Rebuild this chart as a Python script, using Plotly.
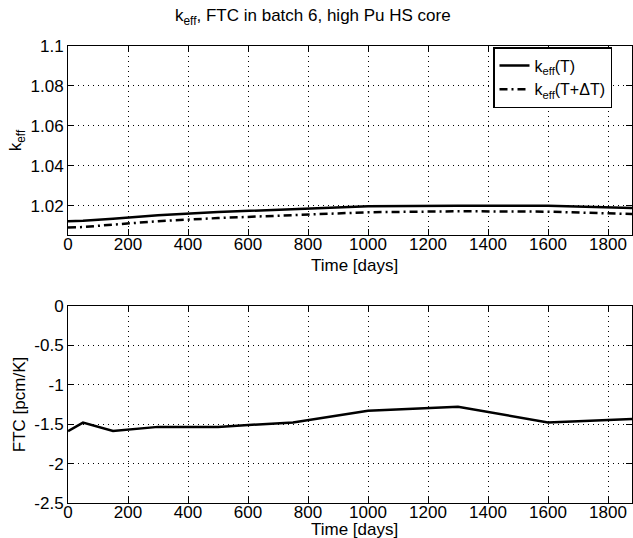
import plotly.graph_objects as go
from plotly.subplots import make_subplots

time_days = [0, 50, 150, 300, 500, 750, 1000, 1300, 1600, 1880]
keff_T = [1.0122, 1.0125, 1.0135, 1.0152, 1.0168, 1.0183, 1.0197, 1.0200, 1.0200, 1.0188]
keff_TdT = [1.0090, 1.0093, 1.0105, 1.0122, 1.0138, 1.0153, 1.0167, 1.0172, 1.0170, 1.0158]
ftc = [-1.587, -1.48, -1.587, -1.534, -1.534, -1.477, -1.329, -1.28, -1.477, -1.434]

x_ticks = [0, 200, 400, 600, 800, 1000, 1200, 1400, 1600, 1800]
k_ticks = [1.02, 1.04, 1.06, 1.08, 1.1]
k_ticktext = ["1.02", "1.04", "1.06", "1.08", "1.1"]
f_ticks = [0, -0.5, -1, -1.5, -2, -2.5]
f_ticktext = ["0", "-0.5", "-1", "-1.5", "-2", "-2.5"]

FONT = "Liberation Sans, Arial, Helvetica, sans-serif"
FS = 17
tfont = dict(size=FS, color="black", family=FONT)

fig = make_subplots(rows=2, cols=1)
fig.add_trace(go.Scatter(x=time_days, y=keff_T, mode="lines", name="k<sub>eff</sub>(T)",
                         line=dict(color="black", width=2.5)), row=1, col=1)
fig.add_trace(go.Scatter(x=time_days, y=keff_TdT, mode="lines", name="k<sub>eff</sub>(T+ΔT)",
                         line=dict(color="black", width=2.5, dash="8px,4px,2px,4px")), row=1, col=1)
fig.add_trace(go.Scatter(x=time_days, y=ftc, mode="lines", showlegend=False,
                         line=dict(color="black", width=2.5)), row=2, col=1)

axis_common = dict(showline=True, linecolor="black", linewidth=1, mirror="ticks",
                   ticks="inside", ticklen=6, tickcolor="black",
                   showgrid=True, gridcolor="black", gridwidth=1, griddash="1px,4px",
                   zeroline=False, automargin=False, tickfont=tfont)

plot_h = 538 - 46 - 35
def py(p):
    return (503 - p) / plot_h

fig.update_xaxes(**axis_common, range=[0, 1880], tickvals=x_ticks, ticklabelstandoff=-6)
fig.update_yaxes(**axis_common)
fig.update_yaxes(range=[1.0053, 1.1], tickvals=k_ticks, ticktext=k_ticktext,
                 domain=[1 - 189 / plot_h, 1],
                 title=dict(text="k<sub>eff</sub>", font=tfont, standoff=4),
                 row=1, col=1)
fig.update_yaxes(range=[-2.5, 0], tickvals=f_ticks, ticktext=f_ticktext,
                 domain=[0, 197 / plot_h],
                 title=dict(text="FTC [pcm/K]", font=tfont, standoff=4),
                 row=2, col=1)

ann = dict(xref="paper", yref="paper", xanchor="center", yanchor="middle",
           showarrow=False, font=tfont)
fig.update_layout(
    width=633, height=538,
    margin=dict(l=68, r=1, t=46, b=35),
    paper_bgcolor="white", plot_bgcolor="white",
    font=dict(family=FONT, color="black", size=FS),
    showlegend=True,
    legend=dict(x=(493 - 68) / 564, y=py(47), xanchor="left", yanchor="top",
                bgcolor="white", bordercolor="black", borderwidth=1.5,
                font=dict(size=16, family=FONT, color="black"),
                tracegroupgap=0, itemwidth=30),
    annotations=[
        dict(text="k<sub>eff</sub>, FTC in batch 6, high Pu HS core",
             x=(313 - 68) / 564, y=py(17), **ann),
        dict(text="Time [days]", x=(354 - 68) / 564, y=py(265), **ann),
        dict(text="Time [days]", x=(354 - 68) / 564, y=py(529), **ann),
    ],
)

fig.write_html("out.html", config={"displayModeBar": False},
               post_script="document.body.style.margin='0';document.body.style.overflow='hidden';")
